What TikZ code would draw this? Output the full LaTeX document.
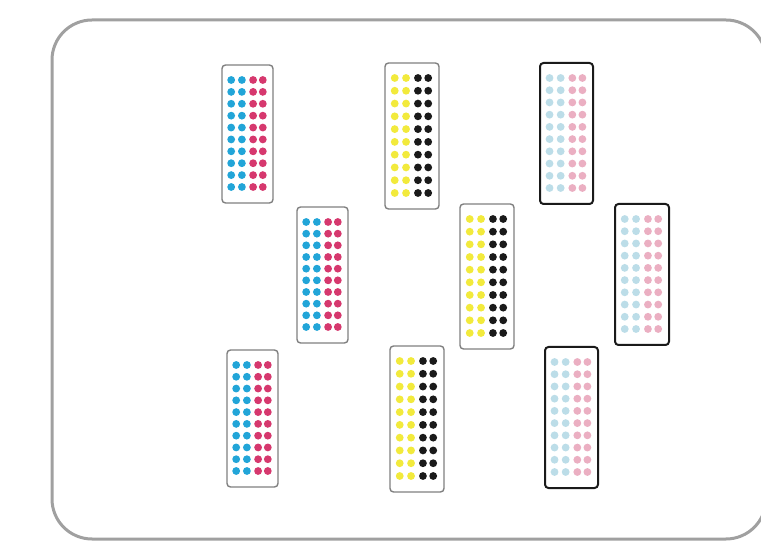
\documentclass[tikz,border=0pt]{standalone}
\begin{document}
\definecolor{outergray}{HTML}{A0A0A0}
\definecolor{cardgray}{HTML}{808080}
\definecolor{cyanD}{HTML}{22A5D8}
\definecolor{magD}{HTML}{D6386E}
\definecolor{yelD}{HTML}{F2EA3C}
\definecolor{blkD}{HTML}{1A1A1A}
\definecolor{cyanL}{HTML}{BCDDE8}
\definecolor{magL}{HTML}{EBAFC2}
\begin{tikzpicture}[x=1pt,y=-1pt,
  outerbox/.style={draw=outergray,line width=3pt,rounded corners=40pt},
  cardbox/.style={rectangle,rounded corners=3.5pt,fill=white,inner sep=0pt,outer sep=0pt},
  plainborder/.style={draw=cardgray,line width=1.4pt},
  darkborder/.style={draw=blkD,line width=2pt}]
\useasboundingbox (0,0) rectangle (761,545);
\fill[white] (0,0) rectangle (761,545);
\clip (0,0) rectangle (761,545);
\draw[outerbox] (52,20) rectangle (766,539);
\newcommand\drawcard[8]{%
  \pgfmathsetmacro\cw{#4-#2}%
  \pgfmathsetmacro\ch{#5-#3}%
  \node[cardbox,#8,minimum width=\cw pt,minimum height=\ch pt] (#1) at ({(#2+#4)/2},{(#3+#5)/2}) {};
  \foreach \j in {0,...,9}{%
    \foreach \f/\c in {0.18/#6,0.39/#6,0.61/#7,0.80/#7}{%
      \fill[\c] ({#2+\f*\cw},{#3+15+\j*(\ch-31)/9}) circle (3.9pt);
    }%
  }%
}
\drawcard{c1}{222}{65}{273}{203}{cyanD}{magD}{plainborder}
\drawcard{c2}{385}{63}{439}{209}{yelD}{blkD}{plainborder}
\drawcard{c3}{540}{63}{593}{204}{cyanL}{magL}{darkborder}
\drawcard{c4}{615}{204}{669}{345}{cyanL}{magL}{darkborder}
\drawcard{c5}{297}{207}{348}{343}{cyanD}{magD}{plainborder}
\drawcard{c6}{460}{204}{514}{349}{yelD}{blkD}{plainborder}
\drawcard{c7}{227}{350}{278}{487}{cyanD}{magD}{plainborder}
\drawcard{c8}{390}{346}{444}{492}{yelD}{blkD}{plainborder}
\drawcard{c9}{545}{347}{598}{488}{cyanL}{magL}{darkborder}
\end{tikzpicture}
\end{document}
